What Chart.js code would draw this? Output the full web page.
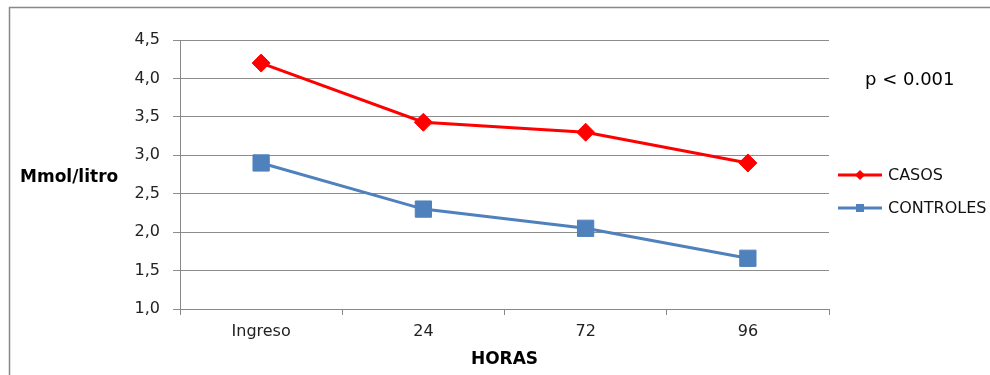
<!DOCTYPE html>
<html><head><meta charset="utf-8">
<script src="https://cdn.jsdelivr.net/npm/chart.js@4/dist/chart.umd.min.js"></script>
<style>html,body{margin:0;padding:0;background:#fff;}#wrap{width:990px;height:375px;position:relative;}</style>
</head><body><div id="wrap"><canvas id="c" width="990" height="375"></canvas></div>
<script>
const categories = ["Ingreso", "24", "72", "96"];
const casos = [4.2, 3.43, 3.3, 2.9];
const controles = [2.9, 2.3, 2.05, 1.66];
const seriesNames = ["CASOS", "CONTROLES"];
const yTicks = [1.0, 1.5, 2.0, 2.5, 3.0, 3.5, 4.0, 4.5];
const yTitle = "Mmol/litro";
const xTitle = "HORAS";
const pNote = "p < 0.001";

const FONT = "'DejaVu Sans', sans-serif";

const decor = {
  id: 'decor',
  afterDraw(chart) {
    const ctx = chart.ctx;
    const ca = chart.chartArea;
    ctx.save();
    // outer frame (left and top only)
    ctx.strokeStyle = '#888';
    ctx.lineWidth = 1.5;
    ctx.beginPath();
    ctx.moveTo(9.5, 380); ctx.lineTo(9.5, 7.5); ctx.lineTo(990, 7.5);
    ctx.stroke();
    // y title (horizontal)
    ctx.fillStyle = '#000';
    ctx.font = "bold 17px " + FONT;
    ctx.textBaseline = 'middle';
    ctx.textAlign = 'left';
    ctx.fillText(yTitle, 20, 178);
    // x title
    ctx.textAlign = 'center';
    ctx.fillText(xTitle, (ca.left + ca.right) / 2, 360);
    // p note
    ctx.font = "18px " + FONT;
    ctx.textAlign = 'left';
    ctx.fillText(pNote, 865, 80);
    // legend
    const ys = [175, 208];
    chart.data.datasets.forEach((ds, i) => {
      const y = ys[i];
      ctx.strokeStyle = ds.borderColor;
      ctx.lineWidth = 3;
      ctx.beginPath(); ctx.moveTo(838, y); ctx.lineTo(882, y); ctx.stroke();
      ctx.fillStyle = ds.borderColor;
      ctx.beginPath();
      if (ds.pointStyle === 'rectRot') {
        ctx.moveTo(860 - 5, y); ctx.lineTo(860, y - 5); ctx.lineTo(860 + 5, y); ctx.lineTo(860, y + 5); ctx.closePath();
      } else {
        ctx.rect(856, y - 4, 8, 8);
      }
      ctx.fill();
      ctx.fillStyle = '#111';
      ctx.font = "16px " + FONT;
      ctx.textAlign = 'left';
      ctx.fillText(ds.label, 888, y + 1);
    });
    ctx.restore();
  }
};

new Chart(document.getElementById('c'), {
  type: 'line',
  data: {
    labels: categories,
    datasets: [
      { label: seriesNames[0], data: casos, borderColor: '#ff0000', backgroundColor: '#ff0000',
        borderWidth: 3, pointStyle: 'rectRot', pointRadius: 9, pointHoverRadius: 9, pointBorderWidth: 1, tension: 0 },
      { label: seriesNames[1], data: controles, borderColor: '#4f81bd', backgroundColor: '#4f81bd',
        borderWidth: 3, pointStyle: 'rect', pointRadius: 11.5, pointHoverRadius: 11.5, pointBorderWidth: 1, tension: 0 }
    ]
  },
  options: {
    responsive: false,
    animation: false,
    events: [],
    layout: { padding: { left: 0, right: 161, top: 40, bottom: 0 } },
    plugins: { legend: { display: false }, tooltip: { enabled: false }, title: { display: false } },
    scales: {
      x: {
        offset: true,
        grid: { offset: true, drawOnChartArea: false, drawTicks: true, tickLength: 6, color: '#888', lineWidth: 1 },
        border: { display: true, color: '#888', width: 1 },
        ticks: { color: '#222', font: { family: FONT, size: 16 }, padding: 7, maxRotation: 0 },
        afterFit(s) { s.height = 66; }
      },
      y: {
        min: 1.0, max: 4.5,
        afterBuildTicks(s) { s.ticks = yTicks.map(v => ({ value: v })); },
        grid: { color: '#8c8c8c', lineWidth: 1, tickLength: 7 },
        border: { display: true, color: '#888', width: 1 },
        ticks: { color: '#222', font: { family: FONT, size: 16 }, padding: 13,
          callback: v => Number(v).toFixed(1).replace('.', ',') },
        afterFit(s) { s.width = 180; }
      }
    }
  },
  plugins: [decor]
});
</script></body></html>
